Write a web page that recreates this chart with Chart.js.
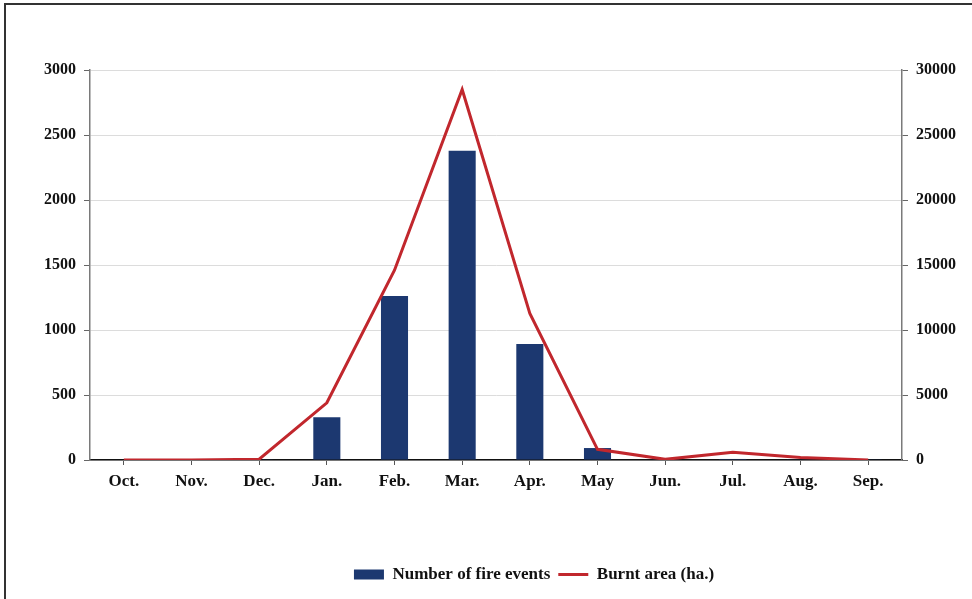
<!DOCTYPE html>
<html>
<head>
<meta charset="utf-8">
<script src="https://cdn.jsdelivr.net/npm/chart.js@4/dist/chart.umd.min.js"></script>
<style>
  html, body { margin: 0; padding: 0; background: #fff; }
  #wrap { position: relative; width: 972px; height: 599px; }
  #frame {
    position: absolute; left: 4px; top: 3px; width: 980px; height: 620px;
    border-left: 2px solid #333; border-top: 2px solid #333; pointer-events: none;
  }
</style>
</head>
<body>
<div id="wrap">
  <canvas id="myChart" width="972" height="599"></canvas>
  <div id="frame"></div>
</div>
<script>
const months = ["Oct.", "Nov.", "Dec.", "Jan.", "Feb.", "Mar.", "Apr.", "May", "Jun.", "Jul.", "Aug.", "Sep."];
// Number of fire events (left axis)
const fireEvents = [0, 0, 5, 328, 1262, 2379, 892, 92, 2, 8, 5, 5];
// Burnt area in ha. (right axis)
const burntArea = [0, 0, 60, 4400, 14600, 28500, 11280, 820, 50, 590, 200, 0];

const serif = "'Liberation Serif', 'Times New Roman', serif";
const navy = "#1c3870";
const red = "#c1272d";

// legend sits a bit right of centre in the original
const shiftLegend = {
    id: "shiftLegend",
    afterLayout(chart) {
        chart.legend.left += 48;
        chart.legend.right += 48;
    }
};

const ctx = document.getElementById("myChart").getContext("2d");

new Chart(ctx, {
    type: "bar",
    data: {
        labels: months,
        datasets: [
            {
                label: "Number of fire events",
                data: fireEvents,
                backgroundColor: navy,
                borderColor: navy,
                borderWidth: 0,
                barPercentage: 0.4,
                categoryPercentage: 1,
                yAxisID: "y",
                order: 2
            },
            {
                type: "line",
                label: "Burnt area (ha.)",
                data: burntArea,
                borderColor: red,
                backgroundColor: red,
                borderWidth: 3,
                pointRadius: 0,
                tension: 0,
                yAxisID: "y1",
                order: 1
            }
        ]
    },
    plugins: [shiftLegend],
    options: {
        responsive: false,
        animation: false,
        layout: { padding: { top: 70, left: 0, right: 0, bottom: 6 } },
        plugins: {
            tooltip: { enabled: false },
            legend: {
                position: "bottom",
                labels: {
                    usePointStyle: true,
                    pointStyleWidth: 30,
                    boxHeight: 10,
                    padding: 8,
                    color: "#111",
                    font: { family: serif, size: 17, weight: "bold" },
                    generateLabels(chart) {
                        const items = Chart.defaults.plugins.legend.labels.generateLabels(chart);
                        items.sort((a, b) => a.datasetIndex - b.datasetIndex);
                        items.forEach(it => {
                            if (it.datasetIndex === 0) {
                                it.pointStyle = "rect";
                                it.fillStyle = navy;
                                it.lineWidth = 0;
                            } else {
                                it.pointStyle = "line";
                                it.lineWidth = 3;
                                it.strokeStyle = red;
                            }
                        });
                        return items;
                    }
                }
            }
        },
        scales: {
            x: {
                grid: {
                    offset: false,
                    drawOnChartArea: false,
                    tickLength: 5,
                    tickColor: "#555"
                },
                border: { color: "#111", width: 1.5 },
                ticks: {
                    padding: 6,
                    color: "#111",
                    font: { family: serif, size: 17, weight: "bold" }
                },
                afterFit(scale) { scale.height = 98; }
            },
            y: {
                position: "left",
                min: 0,
                max: 3000,
                ticks: {
                    stepSize: 500,
                    padding: 8,
                    color: "#111",
                    font: { family: serif, size: 16, weight: "bold" },
                    callback: v => String(v)
                },
                grid: {
                    color: "#dcdcdc",
                    tickColor: "#666",
                    tickLength: 6
                },
                border: { color: "#7a7a7a", width: 1.5 },
                afterFit(scale) { scale.width = 90; }
            },
            y1: {
                position: "right",
                min: 0,
                max: 30000,
                ticks: {
                    stepSize: 5000,
                    padding: 8,
                    color: "#111",
                    font: { family: serif, size: 16, weight: "bold" },
                    callback: v => String(v)
                },
                grid: {
                    drawOnChartArea: false,
                    tickColor: "#666",
                    tickLength: 6
                },
                border: { color: "#7a7a7a", width: 1.5 },
                afterFit(scale) { scale.width = 70; }
            }
        }
    }
});
</script>
</body>
</html>
